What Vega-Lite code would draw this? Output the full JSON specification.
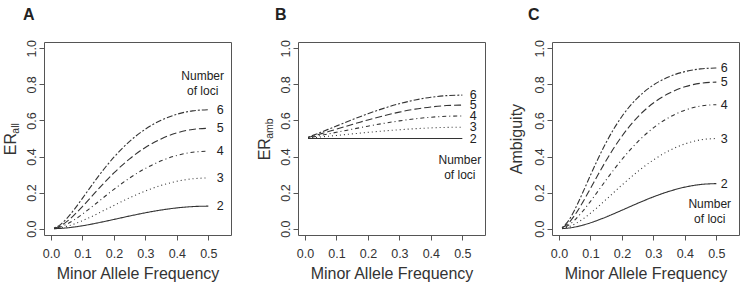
{
  "$schema": "https://vega.github.io/schema/vega-lite/v6.json",
  "background": "white",
  "padding": {"left": 1, "top": 6, "right": 2, "bottom": 0},
  "bounds": "flush",
  "spacing": 67,
  "config": {
    "font": "Liberation Sans",
    "view": {"stroke": "#555", "strokeWidth": 1},
    "axis": {"labelColor": "#333", "titleColor": "#333", "tickColor": "#555", "titleFontWeight": "normal", "grid": false, "domain": false, "tickSize": 5, "labelFontSize": 12.5, "titleFontSize": 16, "labelOverlap": false, "labelFlush": false},
    "title": {"color": "#222", "fontSize": 16, "fontWeight": "bold", "anchor": "start", "frame": "group", "baseline": "alphabetic", "offset": 17}
  },
  "datasets": {
    "curves": [
      {"p": 0.01, "n": 2, "ea": 0.0002, "eb": 0.5, "am": 0.0004},
      {"p": 0.01, "n": 3, "ea": 0.0006, "eb": 0.5016, "am": 0.0012},
      {"p": 0.01, "n": 4, "ea": 0.0012, "eb": 0.5033, "am": 0.0023},
      {"p": 0.01, "n": 5, "ea": 0.0019, "eb": 0.505, "am": 0.0038},
      {"p": 0.01, "n": 6, "ea": 0.0028, "eb": 0.5067, "am": 0.0056},
      {"p": 0.03, "n": 2, "ea": 0.0017, "eb": 0.5, "am": 0.0034},
      {"p": 0.03, "n": 3, "ea": 0.0049, "eb": 0.505, "am": 0.0098},
      {"p": 0.03, "n": 4, "ea": 0.0096, "eb": 0.5101, "am": 0.0188},
      {"p": 0.03, "n": 5, "ea": 0.0155, "eb": 0.5152, "am": 0.0301},
      {"p": 0.03, "n": 6, "ea": 0.0226, "eb": 0.5203, "am": 0.0434},
      {"p": 0.05, "n": 2, "ea": 0.0045, "eb": 0.5, "am": 0.009},
      {"p": 0.05, "n": 3, "ea": 0.0129, "eb": 0.5085, "am": 0.0254},
      {"p": 0.05, "n": 4, "ea": 0.0246, "eb": 0.517, "am": 0.0475},
      {"p": 0.05, "n": 5, "ea": 0.039, "eb": 0.5255, "am": 0.0743},
      {"p": 0.05, "n": 6, "ea": 0.0559, "eb": 0.5342, "am": 0.1046},
      {"p": 0.075, "n": 2, "ea": 0.0096, "eb": 0.5, "am": 0.0193},
      {"p": 0.075, "n": 3, "ea": 0.0269, "eb": 0.5127, "am": 0.0524},
      {"p": 0.075, "n": 4, "ea": 0.0501, "eb": 0.5256, "am": 0.0953},
      {"p": 0.075, "n": 5, "ea": 0.0778, "eb": 0.5386, "am": 0.1444},
      {"p": 0.075, "n": 6, "ea": 0.1089, "eb": 0.5517, "am": 0.1974},
      {"p": 0.1, "n": 2, "ea": 0.0162, "eb": 0.5, "am": 0.0324},
      {"p": 0.1, "n": 3, "ea": 0.0442, "eb": 0.517, "am": 0.0855},
      {"p": 0.1, "n": 4, "ea": 0.0806, "eb": 0.5343, "am": 0.1509},
      {"p": 0.1, "n": 5, "ea": 0.1227, "eb": 0.5517, "am": 0.2224},
      {"p": 0.1, "n": 6, "ea": 0.1683, "eb": 0.5693, "am": 0.2956},
      {"p": 0.125, "n": 2, "ea": 0.0239, "eb": 0.5, "am": 0.0479},
      {"p": 0.125, "n": 3, "ea": 0.0639, "eb": 0.5213, "am": 0.1226},
      {"p": 0.125, "n": 4, "ea": 0.1142, "eb": 0.543, "am": 0.2102},
      {"p": 0.125, "n": 5, "ea": 0.1703, "eb": 0.5648, "am": 0.3015},
      {"p": 0.125, "n": 6, "ea": 0.2292, "eb": 0.5868, "am": 0.3906},
      {"p": 0.15, "n": 2, "ea": 0.0325, "eb": 0.5, "am": 0.065},
      {"p": 0.15, "n": 3, "ea": 0.0851, "eb": 0.5256, "am": 0.1619},
      {"p": 0.15, "n": 4, "ea": 0.149, "eb": 0.5516, "am": 0.2702},
      {"p": 0.15, "n": 5, "ea": 0.2183, "eb": 0.5778, "am": 0.3777},
      {"p": 0.15, "n": 6, "ea": 0.2887, "eb": 0.604, "am": 0.4779},
      {"p": 0.175, "n": 2, "ea": 0.0417, "eb": 0.5, "am": 0.0834},
      {"p": 0.175, "n": 3, "ea": 0.107, "eb": 0.5298, "am": 0.202},
      {"p": 0.175, "n": 4, "ea": 0.184, "eb": 0.5601, "am": 0.3285},
      {"p": 0.175, "n": 5, "ea": 0.2649, "eb": 0.5905, "am": 0.4485},
      {"p": 0.175, "n": 6, "ea": 0.3447, "eb": 0.6209, "am": 0.5552},
      {"p": 0.2, "n": 2, "ea": 0.0512, "eb": 0.5, "am": 0.1024},
      {"p": 0.2, "n": 3, "ea": 0.129, "eb": 0.5339, "am": 0.2417},
      {"p": 0.2, "n": 4, "ea": 0.2181, "eb": 0.5683, "am": 0.3837},
      {"p": 0.2, "n": 5, "ea": 0.309, "eb": 0.6029, "am": 0.5125},
      {"p": 0.2, "n": 6, "ea": 0.3963, "eb": 0.6371, "am": 0.622},
      {"p": 0.25, "n": 2, "ea": 0.0703, "eb": 0.5, "am": 0.1406},
      {"p": 0.25, "n": 3, "ea": 0.1714, "eb": 0.5417, "am": 0.3164},
      {"p": 0.25, "n": 4, "ea": 0.281, "eb": 0.5839, "am": 0.4812},
      {"p": 0.25, "n": 5, "ea": 0.3872, "eb": 0.626, "am": 0.6185},
      {"p": 0.25, "n": 6, "ea": 0.4842, "eb": 0.6671, "am": 0.7258},
      {"p": 0.3, "n": 2, "ea": 0.0882, "eb": 0.5, "am": 0.1764},
      {"p": 0.3, "n": 3, "ea": 0.209, "eb": 0.5486, "am": 0.381},
      {"p": 0.3, "n": 4, "ea": 0.3342, "eb": 0.5977, "am": 0.559},
      {"p": 0.3, "n": 5, "ea": 0.4502, "eb": 0.6462, "am": 0.6967},
      {"p": 0.3, "n": 6, "ea": 0.5519, "eb": 0.6929, "am": 0.7965},
      {"p": 0.35, "n": 2, "ea": 0.1035, "eb": 0.5, "am": 0.207},
      {"p": 0.35, "n": 3, "ea": 0.2399, "eb": 0.5544, "am": 0.4327},
      {"p": 0.35, "n": 4, "ea": 0.376, "eb": 0.6092, "am": 0.6172},
      {"p": 0.35, "n": 5, "ea": 0.4979, "eb": 0.6628, "am": 0.7512},
      {"p": 0.35, "n": 6, "ea": 0.6012, "eb": 0.7135, "am": 0.8425},
      {"p": 0.4, "n": 2, "ea": 0.1152, "eb": 0.5, "am": 0.2304},
      {"p": 0.4, "n": 3, "ea": 0.2627, "eb": 0.5588, "am": 0.47},
      {"p": 0.4, "n": 4, "ea": 0.4059, "eb": 0.6179, "am": 0.6569},
      {"p": 0.4, "n": 5, "ea": 0.5309, "eb": 0.675, "am": 0.7865},
      {"p": 0.4, "n": 6, "ea": 0.6344, "eb": 0.7286, "am": 0.8707},
      {"p": 0.45, "n": 2, "ea": 0.1225, "eb": 0.5, "am": 0.245},
      {"p": 0.45, "n": 3, "ea": 0.2766, "eb": 0.5616, "am": 0.4925},
      {"p": 0.45, "n": 4, "ea": 0.4237, "eb": 0.6232, "am": 0.68},
      {"p": 0.45, "n": 5, "ea": 0.5503, "eb": 0.6826, "am": 0.8062},
      {"p": 0.45, "n": 6, "ea": 0.6534, "eb": 0.7376, "am": 0.8859},
      {"p": 0.5, "n": 2, "ea": 0.125, "eb": 0.5, "am": 0.25},
      {"p": 0.5, "n": 3, "ea": 0.2813, "eb": 0.5625, "am": 0.5},
      {"p": 0.5, "n": 4, "ea": 0.4297, "eb": 0.625, "am": 0.6875},
      {"p": 0.5, "n": 5, "ea": 0.5566, "eb": 0.6851, "am": 0.8125},
      {"p": 0.5, "n": 6, "ea": 0.6597, "eb": 0.7407, "am": 0.8906}
    ],
    "notes": [
      {"panel": "A", "p": 0.482, "v": 0.849, "label": "Number"},
      {"panel": "A", "p": 0.482, "v": 0.765, "label": "of loci"},
      {"panel": "B", "p": 0.492, "v": 0.382, "label": "Number"},
      {"panel": "B", "p": 0.492, "v": 0.295, "label": "of loci"},
      {"panel": "C", "p": 0.479, "v": 0.138, "label": "Number"},
      {"panel": "C", "p": 0.479, "v": 0.055, "label": "of loci"}
    ]
  },
  "hconcat": [
    {
      "width": 187, "height": 193,
      "title": {"text": "A", "dx": -21},
      "encoding": {
        "x": {"field": "p", "type": "quantitative", "scale": {"domain": [-0.022, 0.572], "nice": false, "zero": false},
              "axis": {"title": "Minor Allele Frequency", "values": [0, 0.1, 0.2, 0.3, 0.4, 0.5], "format": ".1f", "labelPadding": 7, "titleBaseline": "alphabetic", "titleY": 43}}
      },
      "layer": [
        {
          "data": {"name": "curves"},
          "mark": {"type": "line", "interpolate": "monotone", "color": "#333", "strokeWidth": 1.1},
          "encoding": {
            "y": {"field": "ea", "type": "quantitative", "scale": {"domain": [-0.035, 1.035], "nice": false, "zero": false},
                  "axis": {"orient": "left", "title": "ER", "values": [0, 0.2, 0.4, 0.6, 0.8, 1], "format": ".1f", "labelAngle": 270, "labelAlign": "center", "labelBaseline": "alphabetic", "labelPadding": 4, "titleAngle": 270, "titleAlign": "left", "titleBaseline": "alphabetic", "titleX": -29, "titleY": 112.7}},
            "strokeDash": {"field": "n", "type": "ordinal", "scale": {"domain": [2, 3, 4, 5, 6], "range": [[1, 0], [1, 3], [1, 3, 4, 3], [7, 3], [2, 2, 6, 2]]}, "legend": null}
          }
        },
        {
          "data": {"name": "curves"},
          "transform": [{"filter": "datum.p == 0.5"}],
          "mark": {"type": "text", "dx": 12, "fontSize": 12.5, "align": "center", "baseline": "middle", "color": "#222"},
          "encoding": {
            "y": {"field": "ea", "type": "quantitative", "scale": {"domain": [-0.035, 1.035], "nice": false, "zero": false},
                  "axis": {"orient": "left", "title": "all", "titleFontSize": 10.5, "labels": false, "ticks": false, "titleAngle": 270, "titleAlign": "left", "titleBaseline": "alphabetic", "titleX": -25.5, "titleY": 91.2}},
            "text": {"field": "n", "type": "nominal"}
          }
        },
        {
          "data": {"name": "notes"},
          "transform": [{"filter": "datum.panel == 'A'"}],
          "mark": {"type": "text", "fontSize": 12, "align": "center", "baseline": "middle", "color": "#222"},
          "encoding": {
            "y": {"field": "v", "type": "quantitative", "axis": null},
            "text": {"field": "label", "type": "nominal"}
          }
        }
      ],
      "resolve": {"axis": {"y": "independent"}}
    },
    {
      "width": 187, "height": 193,
      "title": {"text": "B", "dx": -23},
      "encoding": {
        "x": {"field": "p", "type": "quantitative", "scale": {"domain": [-0.022, 0.572], "nice": false, "zero": false},
              "axis": {"title": "Minor Allele Frequency", "values": [0, 0.1, 0.2, 0.3, 0.4, 0.5], "format": ".1f", "labelPadding": 7, "titleBaseline": "alphabetic", "titleY": 43}}
      },
      "layer": [
        {
          "data": {"name": "curves"},
          "mark": {"type": "line", "interpolate": "monotone", "color": "#333", "strokeWidth": 1.1},
          "encoding": {
            "y": {"field": "eb", "type": "quantitative", "scale": {"domain": [-0.035, 1.035], "nice": false, "zero": false},
                  "axis": {"orient": "left", "title": "ER", "values": [0, 0.2, 0.4, 0.6, 0.8, 1], "format": ".1f", "labelAngle": 270, "labelAlign": "center", "labelBaseline": "alphabetic", "labelPadding": 4, "titleAngle": 270, "titleAlign": "left", "titleBaseline": "alphabetic", "titleX": -29, "titleY": 117.8}},
            "strokeDash": {"field": "n", "type": "ordinal", "scale": {"domain": [2, 3, 4, 5, 6], "range": [[1, 0], [1, 3], [1, 3, 4, 3], [7, 3], [2, 2, 6, 2]]}, "legend": null}
          }
        },
        {
          "data": {"name": "curves"},
          "transform": [{"filter": "datum.p == 0.5"}],
          "mark": {"type": "text", "dx": 11, "fontSize": 12.5, "align": "center", "baseline": "middle", "color": "#222"},
          "encoding": {
            "y": {"field": "eb", "type": "quantitative", "scale": {"domain": [-0.035, 1.035], "nice": false, "zero": false},
                  "axis": {"orient": "left", "title": "amb", "titleFontSize": 10.5, "labels": false, "ticks": false, "titleAngle": 270, "titleAlign": "left", "titleBaseline": "alphabetic", "titleX": -25.5, "titleY": 96.3}},
            "text": {"field": "n", "type": "nominal"}
          }
        },
        {
          "data": {"name": "notes"},
          "transform": [{"filter": "datum.panel == 'B'"}],
          "mark": {"type": "text", "fontSize": 12, "align": "center", "baseline": "middle", "color": "#222"},
          "encoding": {
            "y": {"field": "v", "type": "quantitative", "axis": null},
            "text": {"field": "label", "type": "nominal"}
          }
        }
      ],
      "resolve": {"axis": {"y": "independent"}}
    },
    {
      "width": 187, "height": 193,
      "title": {"text": "C", "dx": -24},
      "encoding": {
        "x": {"field": "p", "type": "quantitative", "scale": {"domain": [-0.022, 0.572], "nice": false, "zero": false},
              "axis": {"title": "Minor Allele Frequency", "values": [0, 0.1, 0.2, 0.3, 0.4, 0.5], "format": ".1f", "labelPadding": 7, "titleBaseline": "alphabetic", "titleY": 43}}
      },
      "layer": [
        {
          "data": {"name": "curves"},
          "mark": {"type": "line", "interpolate": "monotone", "color": "#333", "strokeWidth": 1.1},
          "encoding": {
            "y": {"field": "am", "type": "quantitative", "scale": {"domain": [-0.035, 1.035], "nice": false, "zero": false},
                  "axis": {"orient": "left", "title": "Ambiguity", "values": [0, 0.2, 0.4, 0.6, 0.8, 1], "format": ".1f", "labelAngle": 270, "labelAlign": "center", "labelBaseline": "alphabetic", "labelPadding": 4, "titleAngle": 270, "titleAlign": "center", "titleBaseline": "alphabetic", "titleX": -30.5, "titleY": 96.5}},
            "strokeDash": {"field": "n", "type": "ordinal", "scale": {"domain": [2, 3, 4, 5, 6], "range": [[1, 0], [1, 3], [1, 3, 4, 3], [7, 3], [2, 2, 6, 2]]}, "legend": null}
          }
        },
        {
          "data": {"name": "curves"},
          "transform": [{"filter": "datum.p == 0.5"}],
          "mark": {"type": "text", "dx": 8, "fontSize": 12.5, "align": "center", "baseline": "middle", "color": "#222"},
          "encoding": {
            "y": {"field": "am", "type": "quantitative", "axis": null},
            "text": {"field": "n", "type": "nominal"}
          }
        },
        {
          "data": {"name": "notes"},
          "transform": [{"filter": "datum.panel == 'C'"}],
          "mark": {"type": "text", "fontSize": 12, "align": "center", "baseline": "middle", "color": "#222"},
          "encoding": {
            "y": {"field": "v", "type": "quantitative", "axis": null},
            "text": {"field": "label", "type": "nominal"}
          }
        }
      ],
      "resolve": {"axis": {"y": "independent"}}
    }
  ]
}
